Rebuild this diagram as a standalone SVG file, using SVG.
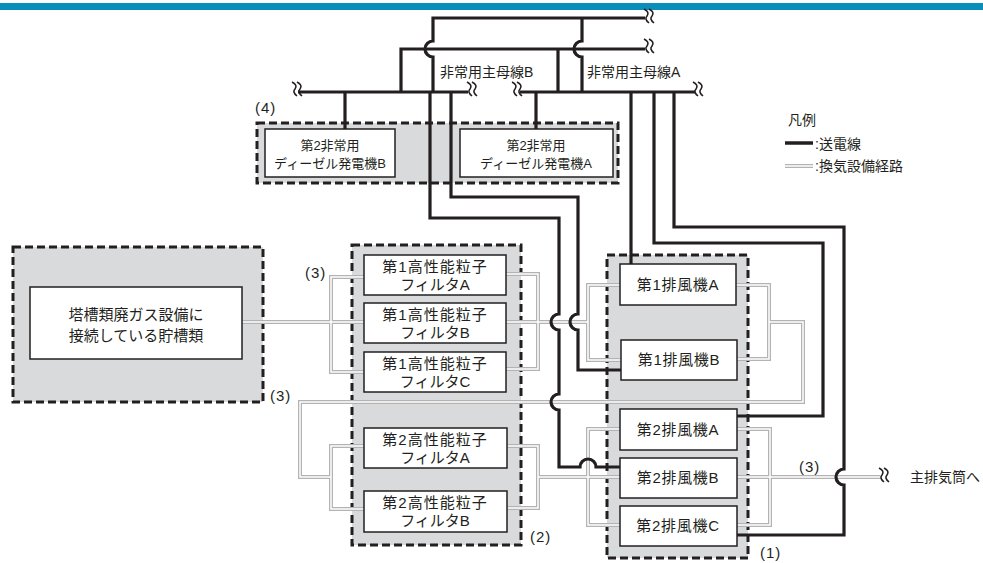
<svg xmlns="http://www.w3.org/2000/svg" width="983" height="563" viewBox="0 0 983 563">
<style>
.t{font-family:"Liberation Sans","Noto Sans CJK JP",sans-serif;fill:#231f20}
.grp{fill:#d9dadb;stroke:#231f20;stroke-width:3;stroke-dasharray:8 4}
.box{fill:#fff;stroke:#231f20;stroke-width:1.5}
.pw{fill:none;stroke:#231f20;stroke-width:3.2}
.vo{fill:none;stroke:#b3b3b3;stroke-width:4}
.vi{fill:none;stroke:#fff;stroke-width:1.5}
.brk{fill:none;stroke:#231f20;stroke-width:1.6}
.f15{font-size:15px}
.f14{font-size:14px}
.f13{font-size:13px}
</style>
<defs>
<g id="brk" class="brk">
<path d="M-5,-7 Q1,-4 -2,0 Q-5,3 0,7"/>
<path d="M0,-7 Q6,-4 3,0 Q0,3 5,7"/>
</g>
<path id="vents" d="M242,322 H364 M364,277 H331 V372 H364 M506,274 H538 V369 H506 M506,322 H588 M620,285 H588 V360 H621 M736,285 H769 V359 H737 M769,322 H803 V402 H300 V477 H331 M364,446 H331 V509 H364 M507,446 H538 V508 H507 M538,477 H620 M620,429 H588 V525 H620 M737,429 H770 V525 H737 M737,477 H880"/>
</defs>
<rect x="0" y="3" width="983" height="7" fill="#0a8fbb"/>

<g id="group4"><rect class="grp" x="257" y="123" width="361" height="60"/></g>
<g id="group2"><rect class="grp" x="352" y="245" width="169" height="300"/></g>
<g id="group1"><rect class="grp" x="607" y="255" width="141" height="303"/></g>
<g id="group3"><rect class="grp" x="13" y="247" width="250" height="155"/></g>

<g id="connectors">
<use href="#vents" class="vo"/>
<use href="#vents" class="vi"/>
<path class="pw" d="M433,92 V57 A8,8 0 0 1 433,41 V18 H645 M582,18 V41 A8,8 0 0 0 582,57 V92"/>
<path class="pw" d="M401,92 V49 H645 M558,49 V92"/>
<path class="pw" d="M298,92 H468 M520,92 H695"/>
<path class="pw" d="M345,92 V129 M536,92 V129"/>
<path class="pw" d="M430,92 V218 H559 V314 A8,8 0 0 0 559,330 V394 A8,8 0 0 0 559,410 V467 H580 A8,8 0 0 1 596,467 H621"/>
<path class="pw" d="M451,92 V197 H578 V314 A8,8 0 0 0 578,330 V370 H621"/>
<path class="pw" d="M631,92 V264"/>
<path class="pw" d="M654,92 V243 H823 V416 H737"/>
<path class="pw" d="M674,92 V227 H844 V469 A8,8 0 0 0 844,485 V535 H737"/>
<use href="#brk" x="649" y="16"/>
<use href="#brk" x="649" y="46"/>
<use href="#brk" x="297" y="89"/>
<use href="#brk" x="472" y="89"/>
<use href="#brk" x="517" y="89"/>
<use href="#brk" x="698" y="89"/>
<use href="#brk" x="884" y="475"/>
</g>

<g id="dgB"><rect class="box" x="265" y="129" width="130" height="48"/>
<text class="t f13" x="330" y="150" text-anchor="middle">第2非常用</text>
<text class="t f13" x="330" y="168" text-anchor="middle">ディーゼル発電機B</text></g>
<g id="dgA"><rect class="box" x="460" y="129" width="153" height="48"/>
<text class="t f13" x="536" y="150" text-anchor="middle">第2非常用</text>
<text class="t f13" x="536" y="168" text-anchor="middle">ディーゼル発電機A</text></g>

<g id="tank"><rect class="box" x="30" y="287" width="212" height="72"/>
<text class="t f15" x="136" y="320" text-anchor="middle">塔槽類廃ガス設備に</text>
<text class="t f15" x="136" y="341" text-anchor="middle">接続している貯槽類</text></g>

<g id="hf1A"><rect class="box" x="364" y="255" width="142" height="40"/>
<text class="t f15" x="435" y="272" text-anchor="middle" letter-spacing="1">第1高性能粒子</text>
<text class="t f15" x="435" y="290" text-anchor="middle">フィルタA</text></g>
<g id="hf1B"><rect class="box" x="364" y="303" width="142" height="40"/>
<text class="t f15" x="435" y="320" text-anchor="middle" letter-spacing="1">第1高性能粒子</text>
<text class="t f15" x="435" y="338" text-anchor="middle">フィルタB</text></g>
<g id="hf1C"><rect class="box" x="364" y="352" width="142" height="40"/>
<text class="t f15" x="435" y="369" text-anchor="middle" letter-spacing="1">第1高性能粒子</text>
<text class="t f15" x="435" y="387" text-anchor="middle">フィルタC</text></g>
<g id="hf2A"><rect class="box" x="364" y="428" width="143" height="40"/>
<text class="t f15" x="435" y="445" text-anchor="middle" letter-spacing="1">第2高性能粒子</text>
<text class="t f15" x="435" y="463" text-anchor="middle">フィルタA</text></g>
<g id="hf2B"><rect class="box" x="364" y="491" width="143" height="41"/>
<text class="t f15" x="435" y="508" text-anchor="middle" letter-spacing="1">第2高性能粒子</text>
<text class="t f15" x="435" y="526" text-anchor="middle">フィルタB</text></g>

<g id="fan1A"><rect class="box" x="620" y="264" width="116" height="41"/>
<text class="t f15" x="678" y="290" text-anchor="middle" letter-spacing="0.7">第1排風機A</text></g>
<g id="fan1B"><rect class="box" x="621" y="340" width="116" height="40"/>
<text class="t f15" x="679" y="365" text-anchor="middle" letter-spacing="0.7">第1排風機B</text></g>
<g id="fan2A"><rect class="box" x="620" y="409" width="117" height="41"/>
<text class="t f15" x="678" y="435" text-anchor="middle" letter-spacing="0.7">第2排風機A</text></g>
<g id="fan2B"><rect class="box" x="620" y="458" width="117" height="40"/>
<text class="t f15" x="678" y="483" text-anchor="middle" letter-spacing="0.7">第2排風機B</text></g>
<g id="fan2C"><rect class="box" x="620" y="506" width="117" height="40"/>
<text class="t f15" x="678" y="531" text-anchor="middle" letter-spacing="0.7">第2排風機C</text></g>

<g id="labels">
<text class="t f14" x="440" y="77">非常用主母線B</text>
<text class="t f14" x="587" y="77">非常用主母線A</text>
<text class="t f15" x="255" y="113" letter-spacing="1">(4)</text>
<text class="t f15" x="305" y="278" letter-spacing="1">(3)</text>
<text class="t f15" x="270" y="401" letter-spacing="1">(3)</text>
<text class="t f15" x="799" y="472" letter-spacing="1">(3)</text>
<text class="t f15" x="530" y="542" letter-spacing="1">(2)</text>
<text class="t f15" x="760" y="558" letter-spacing="1">(1)</text>
<text class="t f14" x="910" y="482">主排気筒へ</text>
</g>

<g id="legend">
<text class="t f14" x="788" y="125">凡例</text>
<path d="M785,143 H813" stroke="#231f20" stroke-width="3.5"/>
<path d="M785,166 H813" class="vo"/>
<path d="M785,166 H813" class="vi"/>
<text class="t f14" x="815" y="149">:送電線</text>
<text class="t f14" x="815" y="171">:換気設備経路</text>
</g>
</svg>
